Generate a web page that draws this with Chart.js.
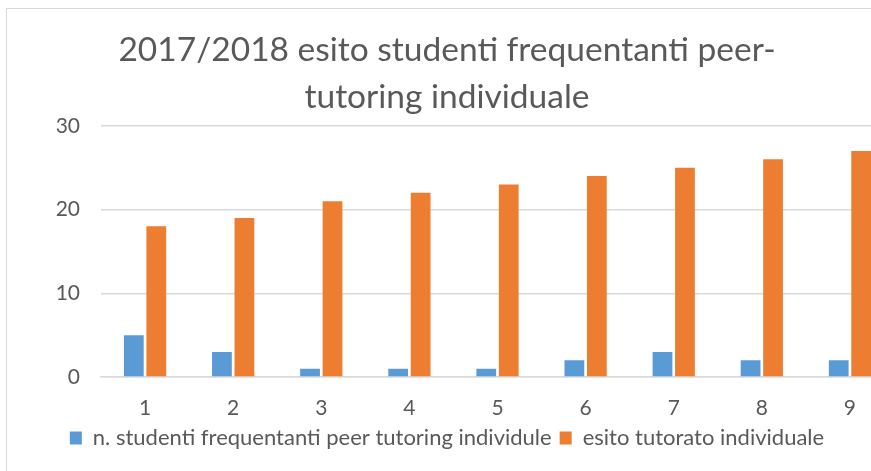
<!DOCTYPE html>
<html>
<head>
<meta charset="utf-8">
<script src="https://cdn.jsdelivr.net/npm/chart.js@4.4.1/dist/chart.umd.min.js"></script>
<style>
html, body { margin: 0; padding: 0; background: #fff; overflow: hidden; width: 871px; height: 471px; }
#frame { position: absolute; left: 6px; top: 8px; width: 1000px; height: 1000px; border: 1px solid #d9d9d9; }
#chart { position: absolute; left: 0; top: 0; }
</style>
</head>
<body>
<div id="frame"></div>
<canvas id="chart" width="940" height="471"></canvas>
<script>
var labels = ['1', '2', '3', '4', '5', '6', '7', '8', '9'];
var frequentanti = [5, 3, 1, 1, 1, 2, 3, 2, 2];
var esito = [18, 19, 21, 22, 23, 24, 25, 26, 27];
var titleLines = ['2017/2018 esito studenti frequentanti peer-', 'tutoring individuale'];

var fontFam = 'Lato, "Open Sans", sans-serif';
var txt = '#595959';

new Chart(document.getElementById('chart'), {
	type: 'bar',
	data: {
		labels: labels,
		datasets: [
			{
				label: 'n. studenti frequentanti peer tutoring individule',
				data: frequentanti,
				backgroundColor: '#5b9bd5',
				categoryPercentage: 0.51,
				barPercentage: 0.88
			},
			{
				label: 'esito tutorato individuale',
				data: esito,
				backgroundColor: '#ed7d31',
				categoryPercentage: 0.51,
				barPercentage: 0.88
			}
		]
	},
	options: {
		responsive: false,
		animation: false,
		devicePixelRatio: 1,
		layout: { padding: { left: 0, right: 46, top: 27, bottom: 12 } },
		plugins: {
			title: {
				display: true,
				text: titleLines,
				color: txt,
				font: { family: fontFam, size: 33.5, weight: 'normal', lineHeight: 1.4 },
				padding: { top: 0, bottom: 5 }
			},
			legend: {
				position: 'bottom',
				labels: {
					color: txt,
					font: { family: fontFam, size: 22 },
					boxWidth: 12,
					boxHeight: 13,
					padding: 8
				}
			},
			tooltip: { enabled: false }
		},
		scales: {
			x: {
				grid: { display: false, drawTicks: false },
				border: { display: true, color: '#d9d9d9', width: 1.5 },
				ticks: { color: txt, font: { family: fontFam, size: 21, lineHeight: 1 }, padding: 21 },
				afterFit: function(scale) { scale.height = 42; }
			},
			y: {
				min: 0,
				max: 30,
				ticks: { stepSize: 10, color: txt, font: { family: fontFam, size: 21 }, padding: 21 },
				grid: { color: '#d9d9d9', lineWidth: 1.5, drawTicks: false },
				border: { display: false },
				afterFit: function(scale) { scale.width = 101; }
			}
		}
	}
});
</script>
</body>
</html>
